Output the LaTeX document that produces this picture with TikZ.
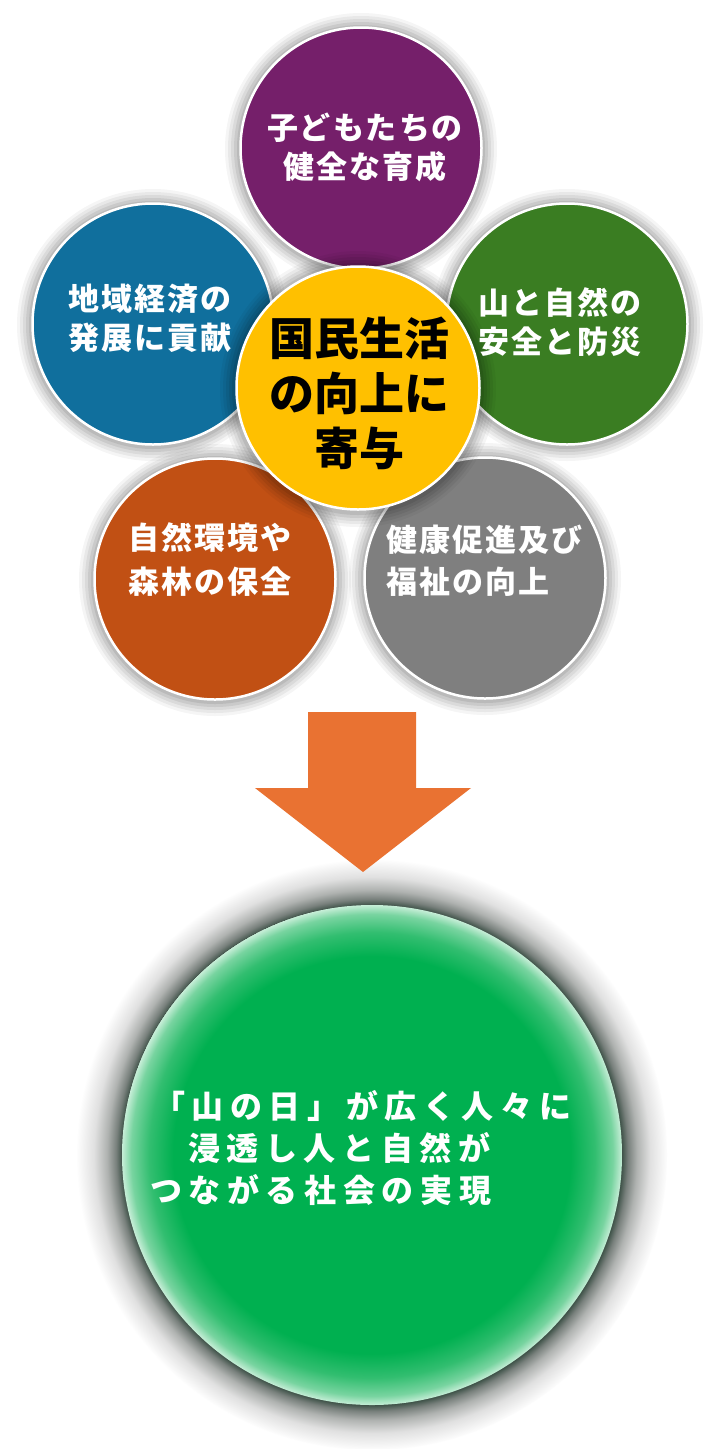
\documentclass[tikz,border=0pt]{standalone}
\usepackage{fontspec}
\newfontfamily\jp{Noto Sans CJK JP}
\makeatletter
\newcommand\trk[2]{\def\trk@k{#1}\@tfor\trk@c:=#2\do{\trk@c\kern\trk@k}\unkern}
\makeatother
\definecolor{cPurple}{RGB}{117,31,106}
\definecolor{cGreen}{RGB}{58,125,34}
\definecolor{cBlue}{RGB}{16,111,157}
\definecolor{cOrange}{RGB}{193,80,20}
\definecolor{cGrey}{RGB}{127,127,127}
\definecolor{cYellow}{RGB}{255,192,0}
\definecolor{cArrow}{RGB}{233,114,50}
\definecolor{bigG}{RGB}{0,176,80}
\definecolor{bigGa}{RGB}{50,190,112}
\definecolor{bigGb}{RGB}{120,212,160}
\definecolor{bigGc}{RGB}{205,240,220}
\definecolor{haloA}{RGB}{62,82,72}
\definecolor{haloB}{RGB}{120,128,124}
\definecolor{haloC}{RGB}{175,178,176}
\definecolor{haloD}{RGB}{224,224,224}
\pgfdeclareradialshading{bigfill}{\pgfpoint{0bp}{0bp}}{color(0bp)=(bigG); color(198bp)=(bigG); color(222bp)=(bigGa); color(240bp)=(bigGb); color(250bp)=(bigGc)}
\pgfdeclareradialshading{bighalo}{\pgfpoint{0bp}{0bp}}{color(0bp)=(haloA); color(249bp)=(haloA); color(255bp)=(haloB); color(264bp)=(haloC); color(277bp)=(haloD); color(295bp)=(white)}
\newcommand\softshadow[2]{%
  \foreach \d/\o in {15/0.04,12/0.05,9/0.06,6/0.07,3/0.08}{%
    \fill[black, opacity=\o] ([yshift=-1pt]#1) circle[radius=#2pt+\d pt];}}
\tikzset{
  petal/.style={circle, inner sep=0pt, minimum size=241pt, draw=white, line width=2.5pt},
  petaltext/.style={inner sep=0pt, text=white, font=\jp\bfseries\fontsize{31}{39}\selectfont},
  hubtext/.style={inner sep=0pt, text=black, align=center, font=\jp\bfseries\fontsize{45}{55}\selectfont},
  goaltextstyle/.style={inner sep=0pt, text=white, align=left, font=\jp\bfseries\fontsize{32}{42}\selectfont}
}
\begin{document}
\begin{tikzpicture}[x=1pt, y=-1pt]
\fill[white] (0,0) rectangle (724,1449);
\useasboundingbox (0,0) rectangle (724,1449);
% centres
\coordinate (cP) at (361,148);
\coordinate (cG) at (567,324);
\coordinate (cB) at (153,324);
\coordinate (cO) at (215,579);
\coordinate (cR) at (485,578);
\coordinate (cY) at (358,388);
\coordinate (cBig) at (372,1155);
% shadows of the outer circles
\softshadow{cP}{121}
\softshadow{cG}{121}
\softshadow{cB}{121}
\softshadow{cO}{121}
\softshadow{cR}{121}
% outer circles
\node[petal, fill=cPurple] (purple) at (cP) {};
\node[petal, fill=cGreen] (green) at (cG) {};
\node[petal, fill=cBlue] (blue) at (cB) {};
\node[petal, fill=cOrange] (orange) at (cO) {};
\node[petal, fill=cGrey] (grey) at (cR) {};
% centre circle
\softshadow{cY}{123}
\node[petal, fill=cYellow, minimum size=243pt] (hub) at (cY) {};
% texts
\node[petaltext, align=center] (tP) at (365,147.5) {\trk{2pt}{子どもたちの}\\\trk{2pt}{健全な育成}};
\node[petaltext, align=center] (tB) at (150,318.5) {\trk{2pt}{地域経済の}\\\trk{2pt}{発展に貢献}};
\node[petaltext, align=left, anchor=west] (tG) at (478,322) {\trk{2pt}{山と自然の}\\\trk{2pt}{安全と防災}};
\node[petaltext, align=center, font=\jp\bfseries\fontsize{31}{44}\selectfont] (tO) at (210,560) {\trk{2pt}{自然環境や}\\\trk{2pt}{森林の保全}};
\node[petaltext, align=left, anchor=west, font=\jp\bfseries\fontsize{31}{42}\selectfont] (tR) at (386,561) {\trk{2pt}{健康促進及び}\\\trk{2pt}{福祉の向上}};
\node[hubtext] (tY) at (359,393) {国民生活\\の向上に\\寄与};
% big goal circle: dark glow outside, pale rim inside
\begin{scope}
  \clip (cBig) circle[radius=295pt];
  \node[inner sep=0pt] (halo) at (cBig) {\pgfuseshading{bighalo}};
\end{scope}
\begin{scope}
  \clip (cBig) circle[radius=250pt];
  \node[inner sep=0pt] (goalfill) at (cBig) {\pgfuseshading{bigfill}};
\end{scope}
\node[circle, inner sep=0pt, minimum size=500pt] (goal) at (cBig) {};
\node[goaltextstyle, anchor=west] (goaltext) at (150,1148) {\hspace*{3pt}\trk{6.6pt}{「山の日」が広く人々に}\\\hspace*{38pt}\trk{6.6pt}{浸透し人と自然が}\\\trk{6.6pt}{つながる社会の実現}};
% arrow
\fill[cArrow] (308,712) -- (416,712) -- (416,788) -- (471,788) -- (363,872) -- (255,788) -- (308,788) -- cycle;
\end{tikzpicture}
\end{document}
